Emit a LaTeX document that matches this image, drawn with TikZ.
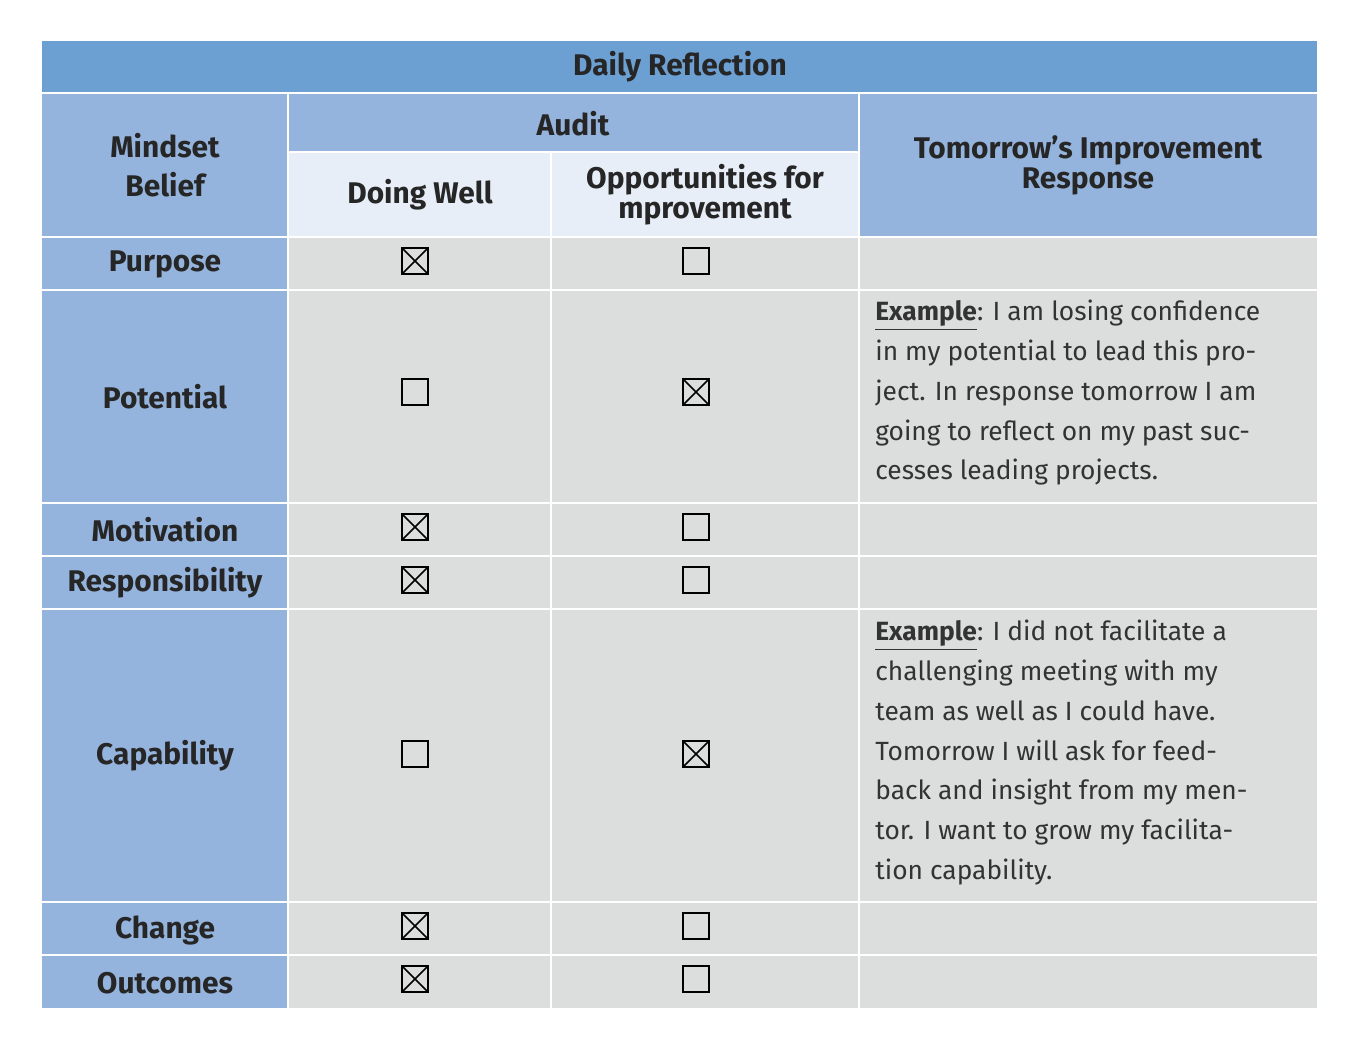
\documentclass[tikz,border=0pt]{standalone}
\usepackage{fontspec}
\setmainfont{Fira Sans}
\definecolor{topblue}{HTML}{6C9FD2}
\definecolor{midblue}{HTML}{95B4DD}
\definecolor{paleblue}{HTML}{E8EEF8}
\definecolor{cellgrey}{HTML}{DCDEDD}
\tikzset{cell/.style={draw=white, line width=1.2pt},
         head/.style={font=\fontsize{17}{17}\selectfont\bfseries, align=center, text=black!85},
         body/.style={font=\fontsize{15}{22.6}\selectfont, align=left, anchor=north west, inner sep=0pt, text=black!80}}
\newcommand\tick[2]{\draw[line width=0.6pt] (#1-13,#2-13) rectangle (#1+13,#2+13);}
\newcommand\crossed[2]{\tick{#1}{#2}\draw[line width=0.9pt] (#1-13,#2-13) -- (#1+13,#2+13) (#1-13,#2+13) -- (#1+13,#2-13);}
\begin{document}
\begin{tikzpicture}[x=0.02cm, y=-0.02cm]
\useasboundingbox[fill=white] (0,0) rectangle (1356,1056);

% header
\fill[topblue] (42,41) rectangle (1317,93);
\node[head] (title) at (680,67) {Daily Reflection};
\fill[midblue] (42,93) rectangle (288,1008);
\fill[midblue] (288,93) rectangle (1317,152);
\fill[midblue] (859,93) rectangle (1317,237);
\fill[paleblue] (288,152) rectangle (859,237);
\fill[cellgrey] (288,237) rectangle (1317,1008);

% grid lines
\draw[cell] (288,93) -- (288,1008) (859,93) -- (859,1008) (551,152) -- (551,1008)
  (42,93) -- (1317,93) (288,152) -- (859,152);
\foreach \y in {237,290,503,556,609,902,955}
  \draw[cell] (42,\y) -- (1317,\y);

\node[head, font=\fontsize{17}{22}\selectfont\bfseries] (mindset) at (165,165) {Mindset\\Belief};
\node[head] (audit) at (573,124) {Audit};
\node[head] (well) at (420,195) {Doing Well};
\node[head, font=\fontsize{17}{17}\selectfont\bfseries] (opp) at (705,195) {Opportunities for\\mprovement};
\node[head, font=\fontsize{17}{17}\selectfont\bfseries] (resp) at (1088,165) {Tomorrow’s Improvement\\Response};

\foreach \name/\y in {Purpose/264, Potential/397, Motivation/530, Responsibility/583, Capability/756, Change/930, Outcomes/983}
  \node[head] (\name) at (165,\y) {\name};

\foreach \y in {261,527,580,926,979} {\crossed{415}{\y}\tick{696}{\y}}
\foreach \y in {392,754} {\tick{415}{\y}\crossed{696}{\y}}

\node[body] (ex1) at (875,300) {\textbf{\underline{Example}}: I am losing confidence\\in my potential to lead this pro-\\ject. In response tomorrow I am\\going to reflect on my past suc-\\cesses leading projects.};
\node[body] (ex2) at (875,620) {\textbf{\underline{Example}}: I did not facilitate a\\challenging meeting with my\\team as well as I could have.\\Tomorrow I will ask for feed-\\back and insight from my men-\\tor. I want to grow my facilita-\\tion capability.};
\end{tikzpicture}
\end{document}
